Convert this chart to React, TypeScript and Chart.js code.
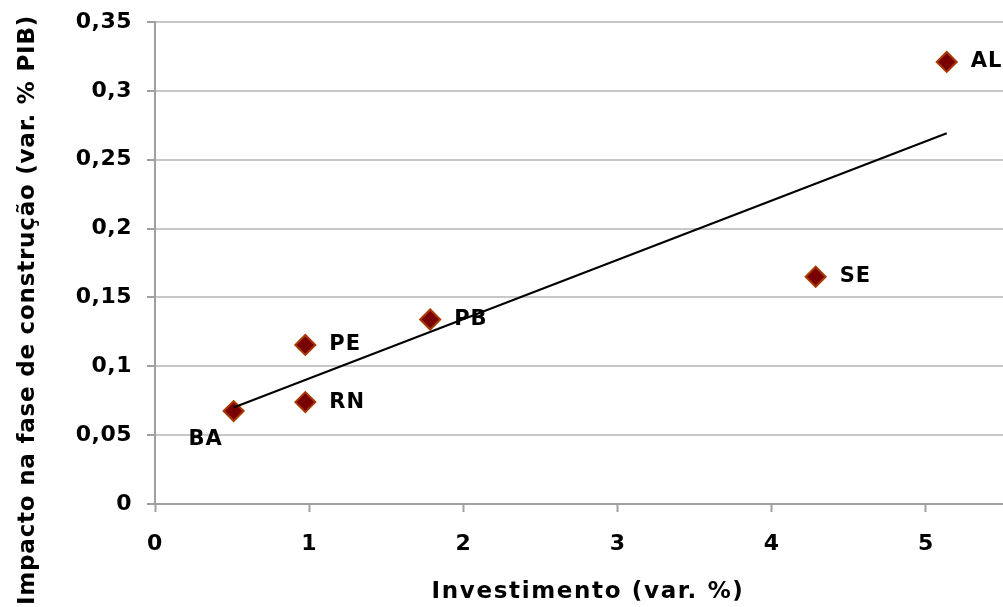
import React, { useEffect, useRef } from "react";
import { Chart, registerables } from "chart.js";

Chart.register(...registerables);

const states = ["BA", "PE", "RN", "PB", "SE", "AL"];
const investimento = [0.51, 0.975, 0.975, 1.785, 4.285, 5.135];
const impacto = [0.0675, 0.1155, 0.074, 0.134, 0.165, 0.321];
const xTitle = "Investimento (var. %)";
const yTitle = "Impacto na fase de construção (var. % PIB)";
const labelOffsets: [number, number][] = [
  [-28, 29],
  [24, 0],
  [24, 0],
  [24, 0],
  [24, 0],
  [24, 0],
];

function regression(xs: number[], ys: number[]) {
  const n = xs.length;
  const mx = xs.reduce((a, b) => a + b, 0) / n;
  const my = ys.reduce((a, b) => a + b, 0) / n;
  let sxy = 0;
  let sxx = 0;
  for (let i = 0; i < n; i++) {
    sxy += (xs[i] - mx) * (ys[i] - my);
    sxx += (xs[i] - mx) * (xs[i] - mx);
  }
  const slope = sxy / sxx;
  return { slope, intercept: my - slope * mx };
}

const FONT = "'DejaVu Sans', Verdana, sans-serif";

function spacedText(ctx: any, text: string, font: string, target: number) {
  ctx.font = font;
  ctx.letterSpacing = "0px";
  const w = ctx.measureText(text).width;
  const sp = Math.max(0, (target - w) / text.length);
  ctx.letterSpacing = `${sp}px`;
  return sp;
}

const labelPlugin = {
  id: "pointLabels",
  beforeDraw(chart: any) {
    chart.ctx.letterSpacing = "0.5px";
  },
  afterDatasetsDraw(chart: any) {
    const meta = chart.getDatasetMeta(1);
    const ctx = chart.ctx;
    ctx.save();
    ctx.font = `bold 21px ${FONT}`;
    ctx.letterSpacing = "1px";
    ctx.fillStyle = "#000";
    ctx.textBaseline = "middle";
    meta.data.forEach((el: any, i: number) => {
      const [dx, dy] = labelOffsets[i];
      ctx.textAlign = dx < 0 ? "center" : "left";
      ctx.fillText(states[i], el.x + dx, el.y + dy);
    });
    ctx.restore();
  },
  afterDraw(chart: any) {
    const ctx = chart.ctx;
    ctx.save();
    ctx.fillStyle = "#000";
    ctx.textAlign = "center";
    ctx.textBaseline = "alphabetic";
    spacedText(ctx, xTitle, `bold 23px ${FONT}`, 313);
    ctx.fillText(xTitle, 588, 598);
    ctx.translate(34, 310);
    ctx.rotate(-Math.PI / 2);
    spacedText(ctx, yTitle, `bold 23px ${FONT}`, 590);
    ctx.fillText(yTitle, 0, 0);
    ctx.restore();
  },
};

export default function App() {
  const ref = useRef<HTMLCanvasElement | null>(null);
  useEffect(() => {
    if (!ref.current) return;
    const { slope, intercept } = regression(investimento, impacto);
    const xmin = Math.min(...investimento);
    const xmax = Math.max(...investimento);
    const trend = [
      { x: xmin, y: intercept + slope * xmin },
      { x: xmax, y: intercept + slope * xmax },
    ];
    const pts = investimento.map((x, i) => ({ x, y: impacto[i] }));
    const chart = new Chart(ref.current, {
      type: "scatter",
      data: {
        datasets: [
          {
            type: "line",
            data: trend,
            borderColor: "#000",
            borderWidth: 2,
            pointRadius: 0,
            fill: false,
          } as any,
          {
            data: pts,
            pointStyle: "rectRot",
            pointRadius: 10,
            pointBackgroundColor: "#780000",
            pointBorderColor: "#a83800",
            pointBorderWidth: 2,
          },
        ],
      },
      options: {
        animation: false,
        responsive: false,
        maintainAspectRatio: false,
        layout: { autoPadding: false, padding: { top: 22, right: 0, left: 0, bottom: 0 } },
        plugins: { legend: { display: false }, tooltip: { enabled: false } },
        scales: {
          x: {
            type: "linear",
            min: 0,
            max: 5.5,
            afterFit: (s: any) => {
              s.height = 103;
              s.paddingLeft = 0;
              s.paddingRight = 0;
            },
            ticks: {
              stepSize: 1,
              includeBounds: false,
              color: "#000",
              font: { family: FONT, size: 22, weight: "bold" },
              padding: 19,
              callback: (v: any) => String(v),
            },
            grid: {
              drawOnChartArea: false,
              tickLength: 8,
              tickColor: "#a0a0a0",
              tickWidth: 2,
            },
            border: { color: "#a0a0a0", width: 2 },
          },
          y: {
            type: "linear",
            min: 0,
            max: 0.35,
            afterFit: (s: any) => {
              s.width = 155;
              s.paddingTop = 0;
              s.paddingBottom = 0;
            },
            ticks: {
              stepSize: 0.05,
              color: "#000",
              font: { family: FONT, size: 22, weight: "bold" },
              padding: 15,
              callback: (v: any) => {
                const r = Math.round(Number(v) * 100) / 100;
                return String(r).replace(".", ",");
              },
            },
            grid: {
              color: "#c8c8c8",
              lineWidth: 2,
              tickLength: 8,
              tickColor: "#a0a0a0",
              tickWidth: 2,
            },
            border: { color: "#a0a0a0", width: 2 },
          },
        },
      } as any,
      plugins: [labelPlugin],
    });
    return () => chart.destroy();
  }, []);
  return (
    <div style={{ position: "fixed", left: 0, top: 0, width: 1003, height: 607, background: "#fff" }}>
      <canvas ref={ref} width={1003} height={607} style={{ width: 1003, height: 607 }} />
    </div>
  );
}
